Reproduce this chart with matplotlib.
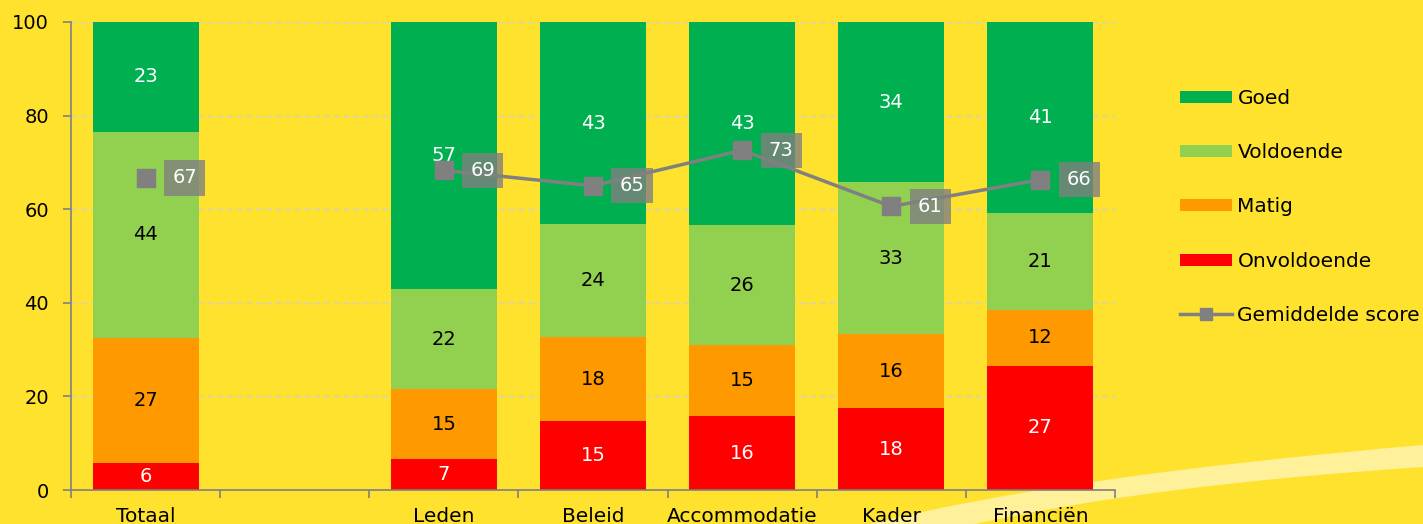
import numpy as np
import matplotlib.pyplot as plt
from matplotlib.path import Path
from matplotlib.patches import PathPatch
from matplotlib.lines import Line2D

categories = ["Totaal", "", "Leden", "Beleid", "Accommodatie", "Kader", "Financiën"]
onvoldoende = [5.8, 0, 6.6, 14.7, 15.8, 17.5, 26.5]
matig = [26.7, 0, 15.0, 18.0, 15.2, 15.8, 12.0]
voldoende = [44.0, 0, 21.3, 24.1, 25.6, 32.5, 20.7]
goed = [23.5, 0, 57.1, 43.2, 43.4, 34.2, 40.8]
onvoldoende_lbl = ["6", "", "7", "15", "16", "18", "27"]
matig_lbl = ["27", "", "15", "18", "15", "16", "12"]
voldoende_lbl = ["44", "", "22", "24", "26", "33", "21"]
goed_lbl = ["23", "", "57", "43", "43", "34", "41"]
gemiddelde = [66.7, np.nan, 68.3, 65.0, 72.6, 60.6, 66.3]
gemiddelde_lbl = ["67", "", "69", "65", "73", "61", "66"]

BG = "#FFE22D"
C_GOED = "#00B050"
C_VOLD = "#92D050"
C_MATIG = "#FF9900"
C_ONV = "#FF0000"
GRAY = "#808080"

W, H = 1423, 524
fig = plt.figure(figsize=(W / 100, H / 100), dpi=100, facecolor=BG)

# decorative swoosh (background)
def fp(px, py):
    return (px / W, (H - py) / H)
verts = [fp(870, 524), fp(1060, 476), fp(1423, 445),
         fp(1423, 467), fp(1150, 485), fp(975, 524), fp(870, 524)]
codes = [Path.MOVETO, Path.CURVE3, Path.CURVE3,
         Path.LINETO, Path.CURVE3, Path.CURVE3, Path.CLOSEPOLY]
fig.patches.append(PathPatch(Path(verts, codes), transform=fig.transFigure,
                             facecolor="#FFF09A", edgecolor="none", zorder=-5))

ax = fig.add_axes([71 / W, 34 / H, (1115 - 71) / W, (490 - 22) / H])
ax.set_facecolor("none")
ax.set_zorder(1)

x = np.arange(len(categories))
bw = 0.71
series = [(onvoldoende, onvoldoende_lbl, C_ONV, "white", "Onvoldoende"),
          (matig, matig_lbl, C_MATIG, "black", "Matig"),
          (voldoende, voldoende_lbl, C_VOLD, "black", "Voldoende"),
          (goed, goed_lbl, C_GOED, "white", "Goed")]
bottom = np.zeros(len(categories))
handles = {}
for vals, lbls, col, tcol, name in series:
    vals = np.array(vals)
    b = ax.bar(x, vals, bw, bottom=bottom, color=col, edgecolor="none", zorder=2, label=name)
    handles[name] = b
    for i, (v, l) in enumerate(zip(vals, lbls)):
        if l:
            ax.text(x[i], bottom[i] + v / 2, l, ha="center", va="center",
                    color=tcol, fontsize=14, zorder=3)
    bottom += vals

line, = ax.plot(x, gemiddelde, color=GRAY, lw=2.5, marker="s", markersize=13,
                zorder=4, label="Gemiddelde score")
for i, (v, l) in enumerate(zip(gemiddelde, gemiddelde_lbl)):
    if l:
        ax.annotate(l, (x[i], v), xytext=(39, 0), textcoords="offset pixels",
                    ha="center", va="center", color="white", fontsize=14, zorder=5,
                    bbox=dict(boxstyle="square,pad=0.42", fc=GRAY, ec="none", alpha=0.8))

ax.set_xlim(-0.5, len(categories) - 0.5)
ax.set_ylim(0, 100)
ax.set_yticks([0, 20, 40, 60, 80, 100])
ax.yaxis.grid(True, color="#D0D0D0", linestyle=(0, (4, 3)), lw=1, zorder=0)
ax.set_axisbelow(True)
ax.set_xticks(x)
ax.set_xticklabels(categories)
ax.set_xticks(np.arange(len(categories) + 1) - 0.5, minor=True)
ax.tick_params(axis="x", which="major", length=0, pad=12, labelsize=14.5)
ax.tick_params(axis="x", which="minor", length=6, color=GRAY, width=1.2)
ax.tick_params(axis="y", length=6, color=GRAY, width=1.2, labelsize=14, pad=10)
for s in ["top", "right"]:
    ax.spines[s].set_visible(False)
for s in ["left", "bottom"]:
    ax.spines[s].set_color(GRAY)
    ax.spines[s].set_linewidth(1.2)

leg_line = Line2D([], [], color=GRAY, lw=2.5, marker="s", markersize=8)
leg = fig.legend([handles["Goed"], handles["Voldoende"], handles["Matig"], handles["Onvoldoende"], leg_line],
                 ["Goed", "Voldoende", "Matig", "Onvoldoende", "Gemiddelde score"],
                 loc="upper left", bbox_to_anchor=(1180 / W, 1 - 89 / H),
                 frameon=False, fontsize=14.5, labelspacing=1.75, handlelength=2.6,
                 handleheight=0.55, handletextpad=0.25, borderaxespad=0, borderpad=0)

fig.savefig("out.png", dpi=100, facecolor=BG)
